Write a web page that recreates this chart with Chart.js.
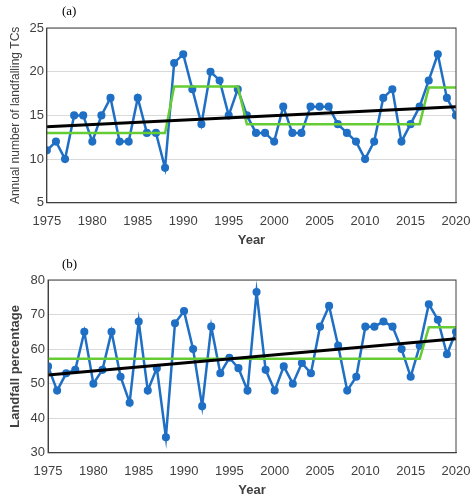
<!DOCTYPE html>
<html><head><meta charset="utf-8">
<script src="https://cdn.jsdelivr.net/npm/chart.js@4/dist/chart.umd.min.js"></script>
<style>
body{margin:0;background:#fff;font-family:"Liberation Serif";}
.c{position:absolute;left:0;width:474px;}
.lab{position:absolute;font-family:"Liberation Serif";font-size:13px;}
</style></head><body>
<div class="c" style="top:0;height:248px"><canvas id="a"></canvas></div>
<div class="c" style="top:252px;height:246px"><canvas id="b"></canvas></div>
<div class="lab" style="left:62px;top:3px">(a)</div>
<div class="lab" style="left:62px;top:256px">(b)</div>
<script>
const years=[];for(let y=1975;y<=2020;y++)years.push(y);
const tcCounts=[11,12,10,15,15,12,15,17,12,12,17,13,13,9,21,22,18,14,20,19,15,18,15,13,13,12,16,13,13,16,16,16,14,13,12,10,12,17,18,12,14,16,19,22,17,15];
const tcStep=[[1975,13],[1988,13],[1989,18.3],[1996,18.3],[1997,14],[2016,14],[2017,18.2],[2020,18.2]];
const tcTrend=[[1975,13.7],[2020,16]];
const pct=[55,48,53,54,65,50,54,65,52,44.5,68,48,54.5,34.5,67.5,71,60,43.5,66.5,53,57.5,54.5,48,76.5,54,48,55,50,56,53,66.5,72.5,61,48,52,66.5,66.5,68,66.5,60,52,61,73,68.5,58.5,65];
const pctStep=[[1975,57.2],[2016,57.2],[2017,66.3],[2020,66.3]];
const pctTrend=[[1975,52.5],[2020,63]];
const xy=a=>a.map(p=>({x:p[0],y:p[1]}));
const tf={family:'Liberation Sans',size:13};
function mk(id,vals,step,trend,ymin,ymax,ystep,ytitle,bold){
 new Chart(document.getElementById(id),{type:'line',
 data:{datasets:[
  {data:xy(trend),borderColor:'#000',borderWidth:3,pointRadius:0,order:1},
  {data:xy(step),borderColor:'#66cc33',borderWidth:2.5,pointRadius:0,order:2},
  {data:years.map((y,i)=>({x:y,y:vals[i]})),borderColor:'#1f6fc5',backgroundColor:'#1f6fc5',borderWidth:2.5,pointRadius:2.8,order:3}
 ]},
 options:{responsive:true,maintainAspectRatio:false,animation:false,
  layout:{padding:{top:28,right:18,left:4,bottom:0}},
  plugins:{legend:{display:false},tooltip:{enabled:false}},
  scales:{
   x:{type:'linear',min:1975,max:2020,ticks:{stepSize:5,color:'#404040',font:tf,callback:v=>String(v)},
      grid:{display:false},border:{color:'#404040'},title:{display:true,text:'Year',color:'#404040',font:{family:'Liberation Sans',size:13,weight:'bold'},padding:0}},
   y:{min:ymin,max:ymax,ticks:{stepSize:ystep,color:'#404040',font:tf},
      grid:{color:'#d9d9d9',drawTicks:false},border:{color:'#404040'},title:{display:true,text:ytitle,color:'#404040',font:{family:'Liberation Sans',size:bold?13:12,weight:bold?'bold':'normal'}}}
  }},
 plugins:[{id:'box',afterDraw(c){const a=c.chartArea,x=c.ctx;x.save();x.strokeStyle='#404040';x.lineWidth=1;x.strokeRect(a.left,a.top,a.right-a.left,a.bottom-a.top);x.restore();}}]
 });
}
mk('a',tcCounts,tcStep,tcTrend,5,25,5,'Annual number of landfalling TCs',false);
mk('b',pct,pctStep,pctTrend,30,80,10,'Landfall percentage',true);
</script></body></html>
